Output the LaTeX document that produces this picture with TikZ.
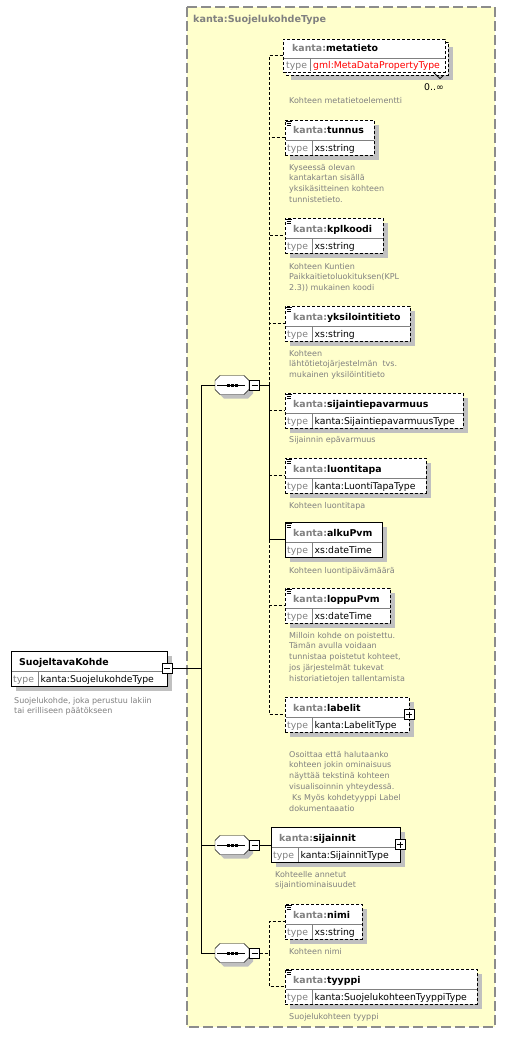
\documentclass[tikz,border=0pt]{standalone}
\usepackage{fontspec}
\setmainfont{DejaVu Sans}
\definecolor{bgy}{HTML}{FFFFCC}
\definecolor{shd}{HTML}{C0C0C0}
\definecolor{tgray}{HTML}{808080}
\definecolor{dgray}{HTML}{808080}
\definecolor{bordergray}{HTML}{8C8C8C}
\definecolor{typered}{HTML}{FF0000}
\pgfdeclarelayer{back}
\pgfdeclarelayer{conn}
\pgfsetlayers{back,conn,main}
\newcommand\kp{\textcolor{tgray}{kanta:}}
% element box: id, x, top, width, name, type, style
\newcommand\xelem[7]{%
  \fill[shd] (#2+5,#3+5) rectangle ++(#4,35);
  \node[ebox,#7,minimum width=#4pt,minimum height=35pt] (#1) at (#2,#3) {};
  \draw[divider] (#2+0.5,#3+20) -- ++(#4-1,0);
  \draw[divider] (#2+27,#3+20) -- ++(0,14.5);
  \node[nametxt] (#1-n) at (#2+8,#3+14) {#5};
  \node[typelbl] (#1-l) at (#2+2,#3+31) {type};
  \node[typetxt] (#1-t) at (#2+29.5,#3+31) {#6};
}
\newcommand\sicon[2]{%
  \draw[line width=0.8pt] (#1+1,#2+1.5) -- ++(5.5,0) (#1+1.5,#2+3.5) -- ++(4.5,0) (#1+1.5,#2+5.5) -- ++(4.5,0);}
% sequence symbol: name, cx, cy
\newcommand\seqsym[3]{%
  \fill[shd] (#2-12+4,#3-9.5+4) -- (#2+12+4,#3-9.5+4) -- (#2+17+4,#3-4.5+4) -- (#2+17+4,#3+4.5+4) -- (#2+12+4,#3+9.5+4) -- (#2-12+4,#3+9.5+4) -- (#2-17+4,#3+4.5+4) -- (#2-17+4,#3-4.5+4) -- cycle;
  \draw[fill=white] (#2-12,#3-9.5) -- (#2+12,#3-9.5) -- (#2+17,#3-4.5) -- (#2+17,#3+4.5) -- (#2+12,#3+9.5) -- (#2-12,#3+9.5) -- (#2-17,#3+4.5) -- (#2-17,#3-4.5) -- cycle;
  \node[inner sep=0,outer sep=0,minimum width=34pt,minimum height=19pt] (#1) at (#2,#3) {};
  \draw (#2-15,#3) -- (#2+13,#3);
  \fill (#2-5.5,#3-1.5) rectangle ++(3,3);
  \fill (#2-1.5,#3-1.5) rectangle ++(3,3);
  \fill (#2+2.5,#3-1.5) rectangle ++(3,3);
  \node[pm] (#1m) at (#2+22.5,#3) {};
  \draw (#2+19.5,#3) -- (#2+25.5,#3);
}
\newcommand\desc[4]{\node[desctxt] (#1) at (#2,#3) {\parbox[t]{200pt}{\raggedright #4}};}
\begin{document}
\begin{tikzpicture}[x=1pt,y=-1pt,line width=1pt,
  ebox/.style={draw=black,fill=white,inner sep=0,outer sep=0,anchor=north west},
  opt/.style={dash pattern=on 3pt off 2pt},
  solid/.style={},
  divider/.style={draw=tgray,solid},
  nametxt/.style={anchor=base west,inner sep=0,font=\fontsize{9.4}{11}\selectfont\bfseries},
  typelbl/.style={anchor=base west,inner sep=0,text=tgray,font=\fontsize{9.3}{11}\selectfont},
  typetxt/.style={anchor=base west,inner sep=0,font=\fontsize{9.3}{11}\selectfont},
  desctxt/.style={anchor=base west,inner sep=0,text=dgray,font=\fontsize{8}{10.9}\selectfont},
  pm/.style={draw=black,fill=white,solid,minimum size=10pt,inner sep=0,outer sep=0},
]
\useasboundingbox (0,0) rectangle (506,1038);
\begin{pgfonlayer}{back}
  \fill[white] (0,0) rectangle (506,1038);
  \draw[draw=bordergray,fill=bgy,line width=1.2pt,dash pattern=on 10pt off 4pt] (187,7) rectangle (495,1027);
\end{pgfonlayer}
\node[anchor=base west,inner sep=0,text=tgray,font=\fontsize{9.6}{11}\selectfont\bfseries] (title) at (193,23) {kanta:SuojelukohdeType};

% root
\xelem{root}{11}{651}{156}{SuojeltavaKohde}{kanta:SuojelukohdeType}{solid}
\node[pm] (rootm) at (root.east) {};
\draw (rootm.center) ++(-3,0) -- ++(6,0);
\desc{rootd}{14}{703}{Suojelukohde, joka perustuu lakiin\\tai erilliseen päätökseen}

% sequences
\seqsym{s1}{232}{385}
\seqsym{s2}{232}{845}
\seqsym{s3}{232}{953}

% metatieto (multiple)
\fill[shd] (291,47) rectangle (453,80);
\node[ebox,opt,minimum width=162pt,minimum height=33pt] (metaback) at (286,42) {};
\node[ebox,opt,minimum width=162pt,minimum height=33pt] (meta) at (283,39) {};
\draw[divider] (283.5,58) -- (444.5,58);
\draw[divider] (310,58) -- (310,71.5);
\node[nametxt] (meta-n) at (292,52) {\kp metatieto};
\node[typelbl] (meta-l) at (286,69) {type};
\node[typetxt,text=typered] (meta-t) at (313,69) {gml:MetaDataPropertyType};
\draw[line width=0.8pt] (434,73) -- (440,78.5) -- (443,76);
\node[typetxt,anchor=base east] (meta-occ) at (444,91) {0..∞};
\desc{metad}{289}{104}{Kohteen metatietoelementti}

\xelem{tunnus}{285}{120}{89}{\kp tunnus}{xs:string}{opt}
\sicon{285}{120}
\desc{tunnusd}{289}{170}{Kyseessä olevan\\kantakartan sisällä\\yksikäsitteinen kohteen\\tunnistetieto.}

\xelem{kpl}{285}{218}{98}{\kp kplkoodi}{xs:string}{opt}
\sicon{285}{218}
\desc{kpld}{289}{269}{Kohteen Kuntien\\Paikkaitietoluokituksen(KPL\\2.3)) mukainen koodi}

\xelem{yksi}{285}{306}{125}{\kp yksilointitieto}{xs:string}{opt}
\sicon{285}{306}
\desc{yksid}{289}{356}{Kohteen\\lähtötietojärjestelmän\ \ tvs.\\mukainen yksilöintitieto}

\xelem{sep}{285}{393}{178}{\kp sijaintiepavarmuus}{kanta:SijaintiepavarmuusType}{opt}
\sicon{285}{393}
\desc{sepd}{289}{442}{Sijainnin epävarmuus}

\xelem{luo}{285}{458}{141}{\kp luontitapa}{kanta:LuontiTapaType}{opt}
\sicon{285}{458}
\desc{luod}{289}{508}{Kohteen luontitapa}

\xelem{alku}{285}{522}{97}{\kp alkuPvm}{xs:dateTime}{solid}
\sicon{285}{522}
\desc{alkud}{289}{573}{Kohteen luontipäivämäärä}

\xelem{loppu}{285}{588}{105}{\kp loppuPvm}{xs:dateTime}{opt}
\sicon{285}{588}
\desc{loppud}{289}{638}{Milloin kohde on poistettu.\\Tämän avulla voidaan\\tunnistaa poistetut kohteet,\\jos järjestelmät tukevat\\historiatietojen tallentamista}

\xelem{lab}{285}{697}{124}{\kp labelit}{kanta:LabelitType}{opt}
\node[pm] (labp) at (lab.east) {};
\draw (labp.center) ++(-3,0) -- ++(6,0) (labp.center) ++(0,-3) -- ++(0,6);
\desc{labd}{289}{757}{Osoittaa että halutaanko\\kohteen jokin ominaisuus\\näyttää tekstinä kohteen\\visualisoinnin yhteydessä.\\\hspace*{3pt}Ks Myös kohdetyyppi Label\\dokumentaaatio}

\xelem{sij}{271}{827}{129}{\kp sijainnit}{kanta:SijainnitType}{solid}
\node[pm] (sijp) at (sij.east) {};
\draw (sijp.center) ++(-3,0) -- ++(6,0) (sijp.center) ++(0,-3) -- ++(0,6);
\desc{sijd}{275}{877}{Kohteelle annetut\\sijaintiominaisuudet}

\xelem{nimi}{285}{904}{77}{\kp nimi}{xs:string}{opt}
\sicon{285}{904}
\desc{nimid}{289}{954}{Kohteen nimi}

\xelem{tyyppi}{285}{969}{192}{\kp tyyppi}{kanta:SuojelukohteenTyyppiType}{opt}
\sicon{285}{969}
\desc{tyyppid}{289}{1019}{Suojelukohteen tyyppi}

% connectors
\coordinate (mv) at (201,0);
\coordinate (vx) at (269,0);
\coordinate (v1) at (s1m.east -| vx);
\coordinate (v3) at (s3m.east -| vx);
\begin{pgfonlayer}{conn}
  \draw (rootm.east) -- (rootm.east -| mv);
  \draw (s1.west -| mv) -- (s3.west -| mv);
  \draw (s1.west -| mv) -- (s1.west);
  \draw (s2.west -| mv) -- (s2.west);
  \draw (s3.west -| mv) -- (s3.west);
  \draw (s1m.east) -- (v1);
  \draw[opt] (v1) |- (meta.west);
  \draw[opt] (v1) |- (tunnus.west);
  \draw[opt] (v1) |- (kpl.west);
  \draw[opt] (v1) |- (yksi.west);
  \draw[opt] (v1) |- (sep.west);
  \draw[opt] (v1) |- (luo.west);
  \draw[opt] (v1) |- (loppu.west);
  \draw[opt] (v1) |- (lab.west);
  \draw (v1) |- (alku.west);
  \draw (s2m.east) -- (s2m.east -| sij.west);
  \draw[opt] (s3m.east) -- (v3);
  \draw[opt] (v3) |- (nimi.west);
  \draw[opt] (v3) |- (tyyppi.west);
\end{pgfonlayer}
\end{tikzpicture}
\end{document}
